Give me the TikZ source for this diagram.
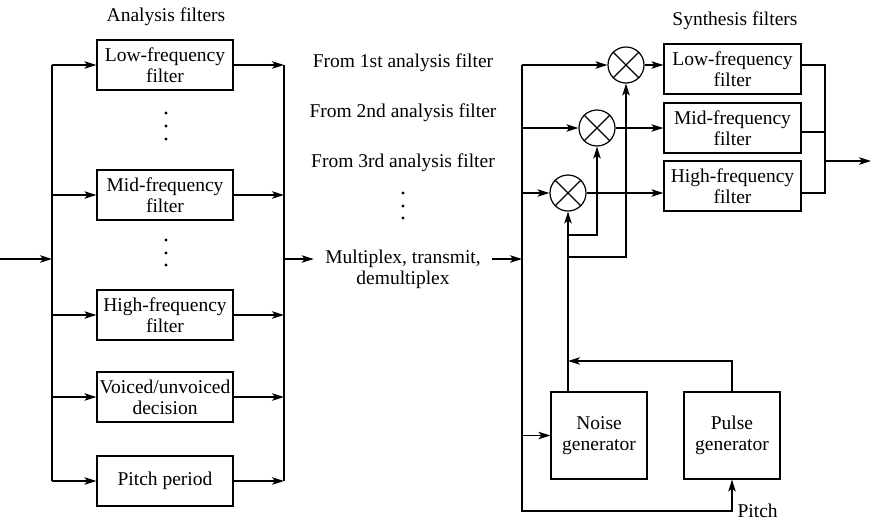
\documentclass[tikz,border=0pt]{standalone}
\usepackage{fontspec}
\setmainfont{Liberation Serif}
\usetikzlibrary{arrows.meta}
\newcommand\diagfont{\fontsize{19.5}{21}\selectfont}
\begin{document}
\begin{tikzpicture}[x=1pt,y=-1pt,line width=1.2pt,
  >={Stealth[length=12pt,width=7.5pt,inset=3pt]},
  every node/.style={font=\diagfont},
  abox/.style={draw,minimum width=136pt,minimum height=50pt,align=center,inner sep=0pt},
  sbox/.style={draw,minimum width=137pt,minimum height=50pt,align=center,inner sep=0pt},
  gbox/.style={draw,minimum width=96pt,minimum height=87pt,align=center,inner sep=0pt},
  mult/.style={draw,circle,minimum size=36pt,inner sep=0pt},
  lbl/.style={inner sep=0pt,align=center}]
\useasboundingbox (0,0) rectangle (871,520);

% titles
\node[lbl] (tA) at (166,17) {Analysis filters};
\node[lbl] (tS) at (735,21) {Synthesis filters};

% analysis boxes
\node[abox] (alow) at (165,65) {Low-frequency\\filter};
\node[abox] (amid) at (165,195) {Mid-frequency\\filter};
\node[abox] (ahigh) at (165,315) {High-frequency\\filter};
\node[abox] (avoice) at (165,397) {Voiced/unvoiced\\decision};
\node[abox] (apitch) at (165,481) {Pitch period};

\foreach \y in {113,126,139,240,253,265} \fill (166,\y) circle (1.6pt);

% left buses
\coordinate (inL) at (0,259);
\coordinate (lt) at (52,65);
\coordinate (lb) at (52,481);
\coordinate (lm) at (52,259);
\coordinate (rt) at (284,65);
\coordinate (rb) at (284,481);
\coordinate (rm) at (284,259);
\draw[->] (inL) -- (lm);
\draw (lt) -- (lb);
\draw (rt) -- (rb);
\foreach \b in {alow,amid,ahigh,avoice,apitch}{
  \draw[->] (\b.west -| lt) -- (\b.west);
  \draw[->] (\b.east) -- (\b.east -| rt);
}

% middle texts
\node[lbl] (f1) at (403,63) {From 1st analysis filter};
\node[lbl] (f2) at (403,113) {From 2nd analysis filter};
\node[lbl] (f3) at (403,163) {From 3rd analysis filter};
\foreach \y in {193,206,218} \fill (403,\y) circle (1.6pt);
\node[lbl,inner xsep=11pt] (mux) at (403,269) {Multiplex, transmit,\\demultiplex};
\coordinate (st) at (522,65);
\coordinate (sb) at (522,511);
\coordinate (sm) at (522,259);
\draw[->] (rm) -- (rm -| mux.west);
\draw[->] (rm -| mux.east) -- (sm);

% multipliers
\node[mult] (m1) at (626,65) {};
\node[mult] (m2) at (597,128) {};
\node[mult] (m3) at (568,193) {};
\foreach \m in {m1,m2,m3}{
  \draw (\m.north east) -- (\m.south west) (\m.north west) -- (\m.south east);
}

% synthesis boxes
\node[sbox] (slow) at (732.5,69) {Low-frequency\\filter};
\node[sbox] (smid) at (732.5,128) {Mid-frequency\\filter};
\node[sbox] (shigh) at (732.5,186) {High-frequency\\filter};

% generators
\node[gbox] (noise) at (599,435.5) {Noise\\generator};
\node[gbox] (pulse) at (732,435.5) {Pulse\\generator};
\node[lbl,anchor=base west] (pitch) at (737,517) {Pitch};

% synthesis bus
\draw[->] (st) -- (sb) -| (pulse.south);
\draw[->] (st) -- (m1.west);
\draw[->] (m2.west -| st) -- (m2.west);
\draw[->] (m3.west -| st) -- (m3.west);
\draw[->] (noise.west -| st) -- (noise.west);

\draw[->] (m1.east) -- (m1.east -| slow.west);
\draw[->] (m2.east) -- (m2.east -| smid.west);
\draw[->] (m3.east) -- (m3.east -| shigh.west);

% excitation lines
\coordinate (nz) at (568,392);
\coordinate (j2) at (568,235);
\coordinate (j1) at (568,257);
\coordinate (pj) at (568,361);
\draw[->] (nz) -- (m3.south);
\draw[->] (j2) -| (m2.south);
\draw[->] (j1) -| (m1.south);
\draw[->] (pulse.north) |- (pj);

% output combining
\coordinate (ot) at (825,65);
\coordinate (om) at (825,132);
\coordinate (ob) at (825,193);
\coordinate (oo) at (825,161);
\coordinate (outE) at (871,161);
\draw (ot -| slow.east) -- (ot) -- (ob) -- (ob -| shigh.east);
\draw (om -| smid.east) -- (om);
\draw[->] (oo) -- (outE);
\end{tikzpicture}
\end{document}
